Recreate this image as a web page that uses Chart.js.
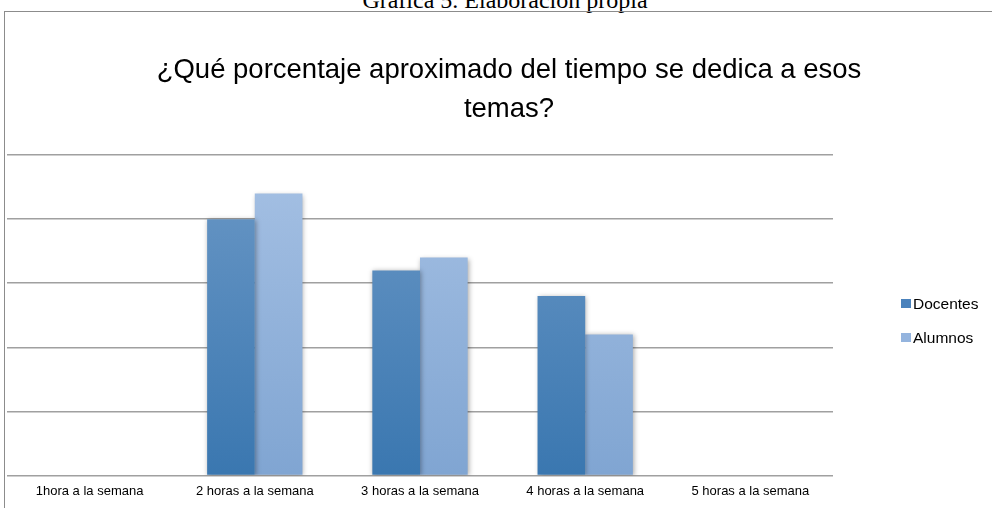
<!DOCTYPE html>
<html>
<head>
<meta charset="utf-8">
<script src="https://cdn.jsdelivr.net/npm/chart.js@4/dist/chart.umd.min.js"></script>
<style>
  html, body { margin: 0; padding: 0; background: #fff; overflow: hidden; width: 992px; height: 508px; }
  #caption { position: absolute; left: 0; width: 1010px; top: -12px; text-align: center; white-space: nowrap;
             font-family: "Liberation Serif", "Times New Roman", serif; font-size: 24px; color: #000; line-height: 24px; }
  #frame { position: absolute; left: 4px; top: 11px; width: 1006px; height: 497px;
           border-left: 1px solid #8c8c8c; border-top: 1px solid #8c8c8c; }
  #frame canvas { position: absolute; left: 0; top: 0; }
  .li { position: absolute; left: 901px; height: 20px; display: flex; align-items: center;
        font-family: "Liberation Sans", Arial, sans-serif; font-size: 15.5px; color: #000; white-space: nowrap; }
  .sw { width: 10px; height: 9px; margin-right: 2px; }
</style>
</head>
<body>
<div id="caption">Gráfica 5. Elaboración propia</div>
<div id="frame"><canvas id="c" width="1006" height="497"></canvas></div>
<script>
const chartTitle = ["¿Qué porcentaje aproximado del tiempo se dedica a esos", "temas?"];
const categories = ["1hora a la semana", "2 horas a la semana", "3 horas a la semana", "4 horas a la semana", "5 horas a la semana"];
const seriesNames = ["Docentes", "Alumnos"];
const docentes = [0, 4.0, 3.2, 2.8, 0];
const alumnos = [0, 4.4, 3.4, 2.2, 0];
const yTicks = [0, 1, 2, 3, 4, 5];

const legendColors = ["#4a82bc", "#94b4de"];
const gradStops = [["#6b98c6", "#3a77b0"], ["#a6c1e4", "#80a5d2"]];

function grad(idx) {
  return (ctx) => {
    const chart = ctx.chart;
    const a = chart.chartArea;
    if (!a) return legendColors[idx];
    const g = chart.ctx.createLinearGradient(0, a.top, 0, a.bottom);
    g.addColorStop(0, gradStops[idx][0]);
    g.addColorStop(1, gradStops[idx][1]);
    return g;
  };
}

const shadowPlugin = {
  id: 'shadow',
  beforeDatasetDraw(chart) {
    const c = chart.ctx;
    c.save();
    c.shadowColor = 'rgba(0,0,0,0.35)';
    c.shadowBlur = 5;
    c.shadowOffsetX = 1;
    c.shadowOffsetY = 1;
  },
  afterDatasetDraw(chart) { chart.ctx.restore(); }
};

new Chart(document.getElementById('c'), {
  type: 'bar',
  data: {
    labels: categories,
    datasets: [
      { label: seriesNames[0], data: docentes, backgroundColor: grad(0), borderWidth: 0 },
      { label: seriesNames[1], data: alumnos, backgroundColor: grad(1), borderWidth: 0 }
    ]
  },
  options: {
    responsive: false,
    animation: false,
    devicePixelRatio: 1,
    layout: { padding: { left: 2, right: 0, top: 0, bottom: 2 } },
    datasets: { bar: { categoryPercentage: 0.577, barPercentage: 1.0 } },
    plugins: {
      legend: { display: false },
      tooltip: { enabled: false },
      title: {
        display: true,
        text: chartTitle,
        color: '#000',
        font: { family: "'Liberation Sans', Arial, sans-serif", size: 27.5, weight: 'normal', lineHeight: 1.42 },
        padding: { top: 39, bottom: 26 }
      }
    },
    scales: {
      x: {
        grid: { display: false, drawTicks: false },
        border: { display: false },
        ticks: { color: '#000', padding: 8, maxRotation: 0, font: { family: "'Liberation Sans', Arial, sans-serif", size: 13 } }
      },
      y: {
        min: yTicks[0], max: yTicks[yTicks.length - 1],
        afterBuildTicks(scale) { scale.ticks = yTicks.map(v => ({ value: v })); },
        ticks: { display: false },
        grid: { color: '#a0a0a0', lineWidth: 1.5, drawTicks: false },
        border: { display: false }
      },
      legendSpace: {
        type: 'linear', position: 'right', min: 0, max: 1,
        ticks: { display: false },
        grid: { display: false, drawTicks: false },
        border: { display: false },
        afterFit(scale) { scale.width = 178; }
      }
    }
  },
  plugins: [shadowPlugin]
});

const legendTops = [293.5, 327.5];
seriesNames.forEach((n, i) => {
  const d = document.createElement('div');
  d.className = 'li';
  d.style.top = legendTops[i] + 'px';
  d.innerHTML = '<span class="sw" style="background:' + legendColors[i] + '"></span><span>' + n + '</span>';
  document.body.appendChild(d);
});
</script>
</body>
</html>
